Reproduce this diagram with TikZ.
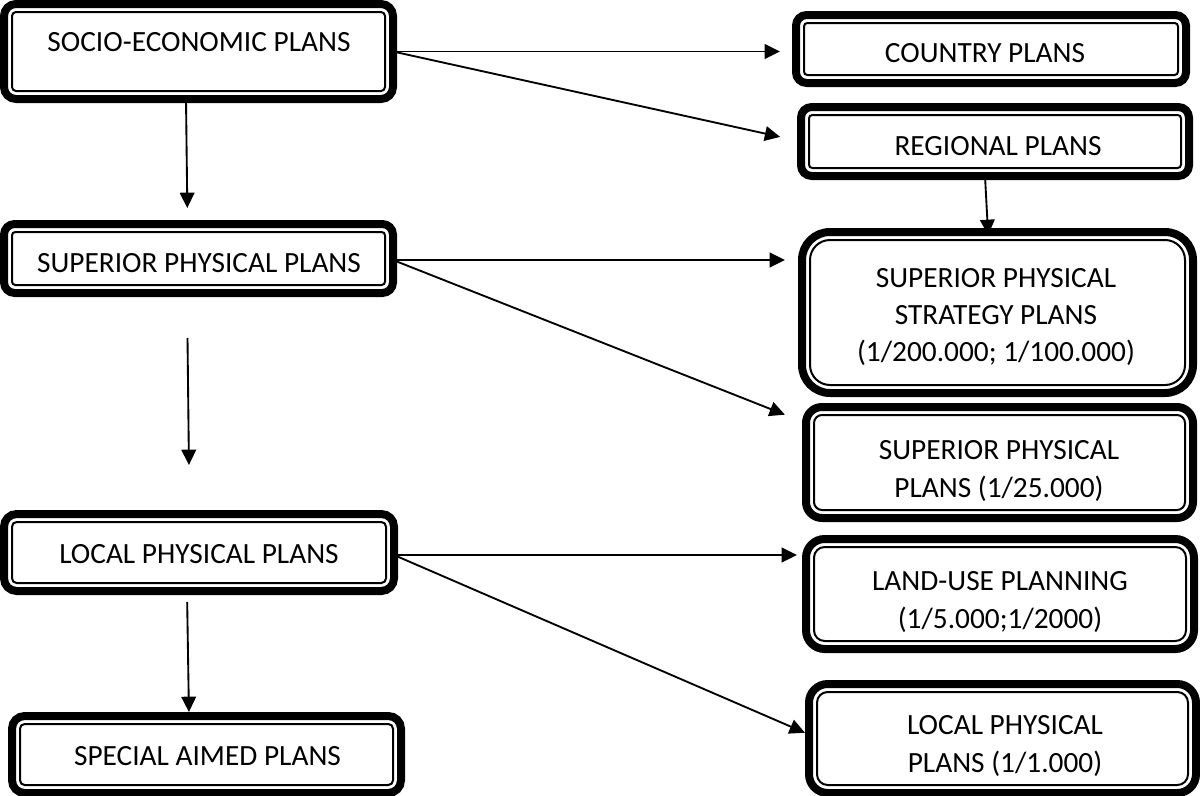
\documentclass[tikz,border=0pt]{standalone}
\usepackage{fontspec}
\setmainfont{Carlito}
\usetikzlibrary{arrows.meta,fit}
\tikzset{
  frame/.style={draw=black, line width=6pt, rectangle, inner sep=0pt, outer sep=0pt},
  innerline/.style={draw=black, line width=1.5pt},
  lbl/.style={font=\fontsize{22}{28}\selectfont, align=center, inner sep=0pt, anchor=center},
  arr/.style={draw=black, line width=1.4pt, -{Triangle[length=11.5pt, width=11pt]}}
}
\begin{document}
\begin{tikzpicture}[x=0.75pt, y=-0.75pt]
\useasboundingbox (0,0) rectangle (1200,796);

% outer frames (path runs along the middle of the thick line)
\node[frame, rounded corners=9pt,   fit={(4,4) (393,99)}]      (soc) {};
\node[frame, rounded corners=8pt,   fit={(796,15) (1186,83)}]  (country) {};
\node[frame, rounded corners=8pt,   fit={(801,107) (1189,176)}] (regional) {};
\node[frame, rounded corners=21pt,  fit={(802,232) (1193,393)}] (strategy) {};
\node[frame, rounded corners=12pt,  fit={(806,407) (1193,518)}] (sup25) {};
\node[frame, rounded corners=14pt,  fit={(806,539) (1194,649)}] (land) {};
\node[frame, rounded corners=14pt,  fit={(809,684) (1196,793)}] (local1000) {};
\node[frame, rounded corners=8pt,   fit={(4,224) (393,293)}]   (supL) {};
\node[frame, rounded corners=9.5pt, fit={(4,514) (394,591)}]   (localL) {};
\node[frame, rounded corners=9.5pt, fit={(12,716) (401,793)}]  (special) {};

% thin inner frames
\foreach \n/\r in {soc/3, country/2.5, regional/2.5, strategy/15, sup25/6,
                   land/8, local1000/8, supL/2.5, localL/3.5, special/3.5}
  \draw[innerline, rounded corners=\r pt]
    ([shift={(8,8)}]\n.north west) rectangle ([shift={(-8,-8)}]\n.south east);

% labels
\node[lbl] (soc-t)       at (199,42.5)  {SOCIO-ECONOMIC PLANS};
\node[lbl] (country-t)   at (985,53)    {COUNTRY PLANS};
\node[lbl] (regional-t)  at (998,146)   {REGIONAL PLANS};
\node[lbl] (strategy-t)  at (996,317)   {SUPERIOR PHYSICAL\\STRATEGY PLANS\\(1/200.000; 1/100.000)};
\node[lbl] (sup25-t)     at (999,471)   {SUPERIOR PHYSICAL\\PLANS (1/25.000)};
\node[lbl] (land-t)      at (1000,602)  {LAND-USE PLANNING\\(1/5.000;1/2000)};
\node[lbl] (local1000-t) at (1005,746)  {LOCAL PHYSICAL\\PLANS (1/1.000)};
\node[lbl] (supL-t)      at (199,263)   {SUPERIOR PHYSICAL PLANS};
\node[lbl] (localL-t)    at (199,554)   {LOCAL PHYSICAL PLANS};
\node[lbl] (special-t)   at (207.5,756) {SPECIAL AIMED PLANS};

% connectors
\draw[arr, shorten >=12pt] (soc.east) -- (soc.east -| country.west);
\draw[arr, shorten >=16pt] (soc.east) -- (regional.west);
\draw[arr, shorten >=12pt] ([shift={(-12.5,0)}]soc.south) -- ([shift={(-11,0)}]supL.north);
\draw[arr, shorten <=33.75pt, shorten >=36.75pt]
  ([shift={(-11.5,0)}]supL.south) -- ([shift={(-9.5,0)}]localL.north);
\draw[arr, shorten <=8.25pt, shorten >=3pt]
  ([shift={(-12,0)}]localL.south) -- ([shift={(-17.5,0)}]special.north);
\draw[arr, shorten >=-2.25pt]
  ([shift={(-10,0)}]regional.south) -- ([shift={(-9.5,0)}]strategy.north);
\draw[arr, shorten >=12.75pt] ([shift={(0,1.5)}]supL.east) -- ([shift={(0,1.5)}]supL.east -| strategy.west);
\draw[arr, shorten >=17pt] ([shift={(0,1.5)}]supL.east) -- ([shift={(0,-39.5)}]sup25.west);
\draw[arr, shorten >=6.75pt] ([shift={(0,2.5)}]localL.east) -- ([shift={(0,2.5)}]localL.east -| land.west);
\draw[arr, shorten >=3.3pt] ([shift={(0,2.5)}]localL.east) -- ([shift={(0,-4)}]local1000.west);
\end{tikzpicture}
\end{document}
